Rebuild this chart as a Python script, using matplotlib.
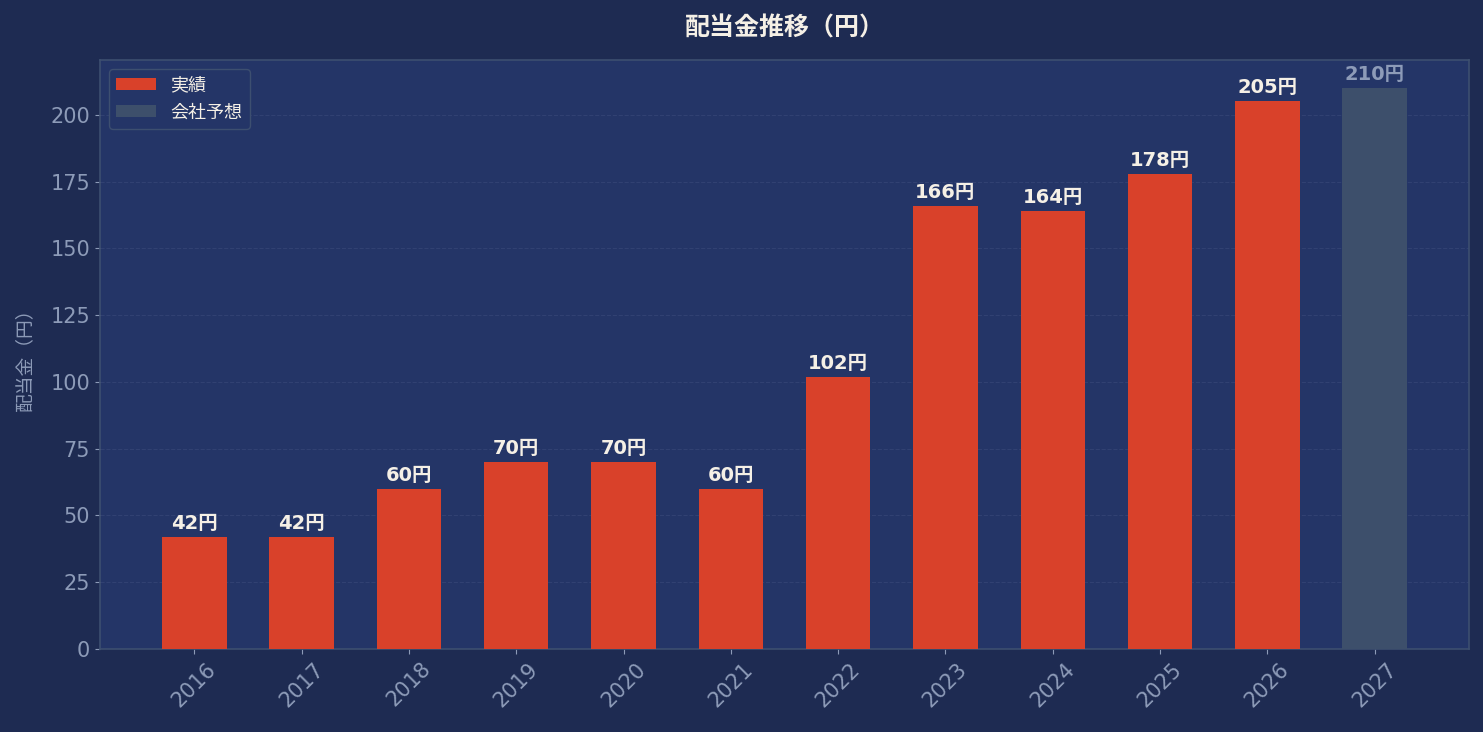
import matplotlib
matplotlib.use("Agg")
import matplotlib.pyplot as plt
import numpy as np

plt.rcParams['font.family'] = ['DejaVu Sans', 'Noto Sans CJK JP']

# data
years = ['2016', '2017', '2018', '2019', '2020', '2021', '2022', '2023', '2024', '2025', '2026', '2027']
dividends = [42, 42, 60, 70, 70, 60, 102, 166, 164, 178, 205, 210]
is_forecast = [False] * 11 + [True]

fig_bg = '#1e2b52'
ax_bg = '#243567'
actual_color = '#d9412a'
forecast_color = '#3d4f6b'
tick_color = '#8d9bb8'
text_color = '#f5f0e6'
edge_color = '#3d4f70'

fig = plt.figure(figsize=(14.83, 7.32), dpi=100, facecolor=fig_bg)
ax = fig.add_axes([0.0674, 0.1134, 0.9232, 0.8046])
ax.set_facecolor(ax_bg)

x = np.arange(len(years))
colors = [forecast_color if f else actual_color for f in is_forecast]
ax.bar(x, dividends, width=0.6, color=colors, zorder=3)

# legend handles
ax.bar([0], [0], width=0, color=actual_color, label='実績')
ax.bar([0], [0], width=0, color=forecast_color, label='会社予想')

for xi, v, f in zip(x, dividends, is_forecast):
    ax.text(xi, v + 1.5, f'{v}円', ha='center', va='bottom', fontsize=14,
            fontweight='bold', color=tick_color if f else text_color, zorder=4)

ax.set_ylim(0, 210 * 1.05)
ax.set_xticks(x)
ax.set_xticklabels(years, rotation=45, fontsize=15, color=tick_color)
ax.set_yticks(np.arange(0, 201, 25))
ax.tick_params(axis='y', labelsize=15, colors=tick_color)
ax.tick_params(axis='x', colors=tick_color)
ax.yaxis.grid(True, linestyle='--', color='#3a4a7a', linewidth=0.8, alpha=0.6, zorder=0)
ax.set_axisbelow(True)

for s in ax.spines.values():
    s.set_color(edge_color)
    s.set_linewidth(1.2)

ax.set_ylabel('配当金（円）', fontsize=13.5, color=tick_color, labelpad=12)
ax.set_title('配当金推移（円）', fontsize=18, fontweight='bold', color=text_color, pad=18)

leg = ax.legend(loc='upper left', fontsize=13, facecolor=ax_bg, edgecolor=edge_color,
                labelcolor=text_color, framealpha=1.0, handlelength=2.2)

fig.savefig('out.png', dpi=100, facecolor=fig_bg)
